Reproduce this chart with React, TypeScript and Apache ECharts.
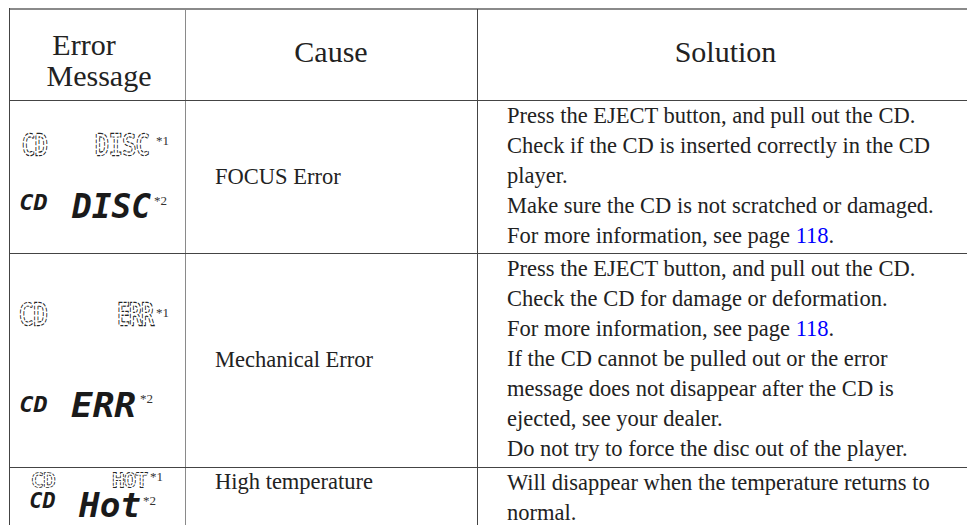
import React, { useEffect, useRef } from "react";
import * as echarts from "echarts";

// ---- content ----
const headerError = ["Error", "Message"];
const headerCause = "Cause";
const headerSolution = "Solution";

const causes = ["FOCUS Error", "Mechanical Error", "High temperature"];

const solutionsRow1 = [
  "Press the EJECT button, and pull out the CD.",
  "Check if the CD is inserted correctly in the CD",
  "player.",
  "Make sure the CD is not scratched or damaged.",
  "For more information, see page {l|118}.",
];
const solutionsRow2 = [
  "Press the EJECT button, and pull out the CD.",
  "Check the CD for damage or deformation.",
  "For more information, see page {l|118}.",
  "If the CD cannot be pulled out or the error",
  "message does not disappear after the CD is",
  "ejected, see your dealer.",
  "Do not try to force the disc out of the player.",
];
const solutionsRow3 = [
  "Will disappear when the temperature returns to",
  "normal.",
];
const solutions = [solutionsRow1, solutionsRow2, solutionsRow3];

// display messages: [source, message, note] per line
const messagesRow1 = [
  ["CD", "DISC", "*1"],
  ["CD", "DISC", "*2"],
];
const messagesRow2 = [
  ["CD", "ERR", "*1"],
  ["CD", "ERR", "*2"],
];
const messagesRow3 = [
  ["CD", "HOT", "*1"],
  ["CD", "Hot", "*2"],
];
const messages = [messagesRow1, messagesRow2, messagesRow3];

// ---- layout ----
const X0 = 9;
const X1 = 185;
const X2 = 477;
const XR = 974;
const YTOP = 9;
const YHEAD = 100;
const ROW_TOPS = [100, 253, 467];
const ROW_BOTTOMS = [253, 467, 525];
const CAUSE_BASE = [184, 367, 489];
const LINE_H = 30;
const BODY_FONT = 22.5;
const HEAD_FONT = 30;
const SERIF = "Liberation Serif";
const MONO = "DejaVu Sans Mono";
const INK = "#222";

// LCD boxes per row/line: [cdX0, cdX1, cdY0, cdY1, msgX0, msgX1, msgY0, msgY1, noteX, noteY]
const lcdBoxes = [
  [
    [23, 47, 134, 155, 96, 149, 134, 155, 156, 140],
    [20, 47, 195, 210, 73, 150, 193, 218, 154, 200],
  ],
  [
    [20, 47, 303, 325, 118, 153, 303, 325, 156, 312],
    [20, 47, 397, 412, 72, 135, 393, 417, 140, 398],
  ],
  [
    [32, 55, 473, 487, 113, 147, 473, 487, 150, 476],
    [30, 55, 493, 508, 80, 140, 493, 517, 143, 500],
  ],
];

const central = (baseline: number, size: number) => baseline - 0.3375 * size;

function serifText(text: string, x: number, baseline: number, size: number, align = "left", rich = false): any {
  const style: any = {
    text,
    x: 0,
    y: 0,
    fill: INK,
    fontSize: size,
    fontFamily: SERIF,
    align,
    textAlign: align,
    verticalAlign: "middle",
    textVerticalAlign: "middle",
  };
  if (rich) {
    style.rich = {
      l: { fill: "#0000ff", fontSize: size, fontFamily: SERIF },
    };
  }
  return { type: "text", x, y: central(baseline, size), silent: true, style };
}

function lcdText(text: string, x0: number, x1: number, y0: number, y1: number, bold: boolean): any {
  const n = text.length;
  const f = (x1 - x0) / (0.602 * n - 0.06);
  const sY = (y1 - y0) / (0.729 * f);
  const style: any = {
    text,
    x: 0,
    y: 0,
    fontSize: f,
    fontFamily: MONO,
    fontWeight: bold ? "bold" : "normal",
    fontStyle: bold ? "italic" : "normal",
    align: "left",
    textAlign: "left",
    verticalAlign: "middle",
    textVerticalAlign: "middle",
  };
  if (bold) {
    style.fill = "#1a1a1a";
  } else {
    style.fill = "#ffffff";
    style.stroke = "#262626";
    style.lineWidth = 1.8;
    style.lineDash = [3, 1.2];
  }
  return { type: "text", x: x0 - 0.03 * f, y: (y0 + y1) / 2 + 0.02 * f, scaleY: sY, silent: true, style };
}

function line(x1: number, y1: number, x2: number, y2: number, color: string, w = 1): any {
  return {
    type: "line",
    silent: true,
    shape: { x1, y1, x2, y2 },
    style: { stroke: color, lineWidth: w },
  };
}

function buildGraphics(): any[] {
  const g: any[] = [];
  // rules
  g.push(line(X0, YTOP, XR, YTOP, "#8a8a8a", 2));
  g.push(line(X0 + 0.5, YTOP - 1, X0 + 0.5, 525, "#444"));
  g.push(line(X1 + 0.5, YTOP, X1 + 0.5, 525, "#8a8a8a"));
  g.push(line(X2 + 0.5, YTOP, X2 + 0.5, 525, "#444"));
  g.push(line(X0, YHEAD + 0.5, XR, YHEAD + 0.5, "#444"));
  ROW_BOTTOMS.slice(0, 2).forEach((yb) => g.push(line(X0, yb + 0.5, XR, yb + 0.5, "#444")));

  // header
  g.push(serifText(headerError[0], 84, 55, HEAD_FONT, "center"));
  g.push(serifText(headerError[1], 99, 86, HEAD_FONT, "center"));
  g.push(serifText(headerCause, (X1 + X2) / 2, 62, HEAD_FONT, "center"));
  g.push(serifText(headerSolution, (X2 + XR) / 2, 62, HEAD_FONT, "center"));

  // body
  ROW_TOPS.forEach((top, r) => {
    g.push(serifText(causes[r], 215, CAUSE_BASE[r], BODY_FONT));
    solutions[r].forEach((t, i) => {
      g.push(serifText(t, 507, top + 23 + i * LINE_H, BODY_FONT, "left", t.indexOf("{l|") >= 0));
    });
    messages[r].forEach((m, li) => {
      const b = lcdBoxes[r][li];
      const bold = li === 1;
      g.push(lcdText(m[0], b[0], b[1], b[2], b[3], bold));
      g.push(lcdText(m[1], b[4], b[5], b[6], b[7], bold));
      g.push({
        type: "text",
        x: b[8],
        y: b[9],
        silent: true,
        style: {
          text: m[2],
          x: 0,
          y: 0,
          fill: "#333",
          fontSize: 13,
          fontFamily: SERIF,
          align: "left",
          textAlign: "left",
          verticalAlign: "middle",
          textVerticalAlign: "middle",
        },
      });
    });
  });
  return g;
}

export default function App() {
  const ref = useRef<HTMLDivElement>(null);
  useEffect(() => {
    if (!ref.current) return;
    const chart = echarts.init(ref.current, undefined, { renderer: "svg" });
    chart.setOption({
      animation: false,
      backgroundColor: "#ffffff",
      graphic: buildGraphics(),
    });
    return () => chart.dispose();
  }, []);
  return (
    <div
      ref={ref}
      style={{ position: "fixed", left: 0, top: 0, width: 967, height: 525, background: "#fff" }}
    />
  );
}
